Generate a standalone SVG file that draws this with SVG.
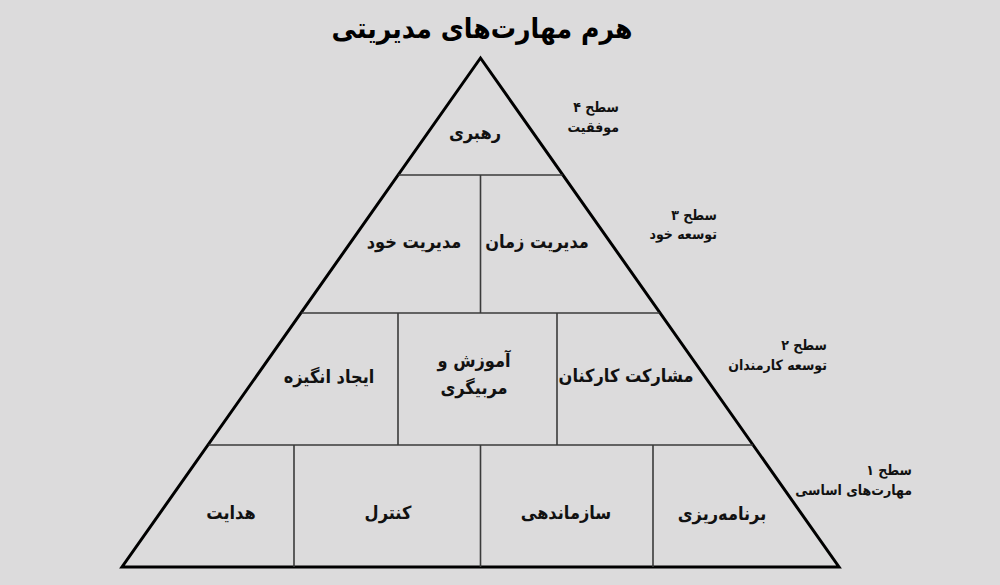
<svg xmlns="http://www.w3.org/2000/svg" width="1000" height="585" viewBox="0 0 1000 585">
<style>
.bg{fill:#dcdbdc}
.outer{fill:none;stroke:#000;stroke-width:3;stroke-linejoin:miter}
.div{fill:none;stroke:#3a3a3a;stroke-width:1.6}
.title{font-family:"DejaVu Sans Condensed","DejaVu Sans",sans-serif;font-size:28px;font-weight:bold;fill:#000;text-anchor:middle}
.node{font-family:"DejaVu Sans Condensed","DejaVu Sans",sans-serif;font-size:18px;font-weight:bold;fill:#111;text-anchor:middle}
.lvl{font-family:"DejaVu Sans Condensed","DejaVu Sans",sans-serif;font-size:14px;font-weight:bold;fill:#111;text-anchor:end}
</style>
<rect class="bg" x="0" y="0" width="1000" height="585"/>
<text class="title" x="482" y="38">هرم مهارت‌های مدیریتی</text>
<g id="connectors">
<polygon class="outer" points="480.5,58 839,567 122,567"/>
<line class="div" x1="398.4" y1="175" x2="562.6" y2="175"/>
<line class="div" x1="480.5" y1="175" x2="480.5" y2="313"/>
<line class="div" x1="301.5" y1="313" x2="659.5" y2="313"/>
<line class="div" x1="398" y1="313" x2="398" y2="445"/>
<line class="div" x1="557" y1="313" x2="557" y2="445"/>
<line class="div" x1="208.5" y1="445" x2="753" y2="445"/>
<line class="div" x1="294" y1="445" x2="294" y2="567"/>
<line class="div" x1="480.5" y1="445" x2="480.5" y2="567"/>
<line class="div" x1="653" y1="445" x2="653" y2="567"/>
</g>
<g id="n-rahbari"><text class="node" x="475" y="139">رهبری</text></g>
<g id="n-modiriat-khod"><text class="node" x="414" y="248">مدیریت خود</text></g>
<g id="n-modiriat-zaman"><text class="node" x="537" y="248">مدیریت زمان</text></g>
<g id="n-angizeh"><text class="node" x="329" y="383">ایجاد انگیزه</text></g>
<g id="n-amoozesh"><text class="node" x="474" y="367">آموزش و</text><text class="node" x="474" y="394">مربیگری</text></g>
<g id="n-mosharekat"><text class="node" x="626" y="382">مشارکت کارکنان</text></g>
<g id="n-hedayat"><text class="node" x="231" y="519">هدایت</text></g>
<g id="n-control"><text class="node" x="388" y="519">کنترل</text></g>
<g id="n-sazmandehi"><text class="node" x="566" y="519">سازماندهی</text></g>
<g id="n-barnamerizi"><text class="node" x="722" y="520">برنامه‌ریزی</text></g>
<g id="l4"><text class="lvl" x="619" y="112">سطح ۴</text><text class="lvl" x="619" y="132">موفقیت</text></g>
<g id="l3"><text class="lvl" x="717" y="220">سطح ۳</text><text class="lvl" x="717" y="239">توسعه خود</text></g>
<g id="l2"><text class="lvl" x="827" y="350">سطح ۲</text><text class="lvl" x="827" y="370">توسعه کارمندان</text></g>
<g id="l1"><text class="lvl" x="912" y="475">سطح ۱</text><text class="lvl" x="912" y="495">مهارت‌های اساسی</text></g>
</svg>
